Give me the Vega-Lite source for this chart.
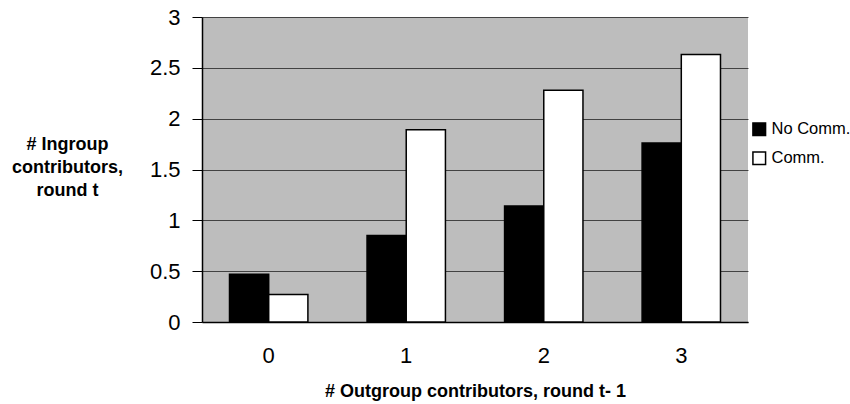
{
  "$schema": "https://vega.github.io/schema/vega-lite/v6.json",
  "autosize": "none",
  "padding": {"left": 202, "top": 17, "right": 102, "bottom": 82},
  "width": 546,
  "height": 305,
  "background": "white",
  "config": {
    "font": "Liberation Sans",
    "view": {"fill": "#bdbdbd", "stroke": null}
  },
  "data": {
    "values": [
      {"outgroup": "0", "cond": "No Comm.", "value": 0.47},
      {"outgroup": "0", "cond": "Comm.", "value": 0.27},
      {"outgroup": "1", "cond": "No Comm.", "value": 0.85},
      {"outgroup": "1", "cond": "Comm.", "value": 1.89},
      {"outgroup": "2", "cond": "No Comm.", "value": 1.14},
      {"outgroup": "2", "cond": "Comm.", "value": 2.28},
      {"outgroup": "3", "cond": "No Comm.", "value": 1.76},
      {"outgroup": "3", "cond": "Comm.", "value": 2.63}
    ]
  },
  "mark": {"type": "bar", "stroke": "black", "strokeWidth": 1.5},
  "encoding": {
    "x": {
      "field": "outgroup",
      "type": "nominal",
      "scale": {"paddingInner": 0.43, "paddingOuter": 0.2},
      "axis": {
        "labelAngle": 0,
        "labelFontSize": 22,
        "labelColor": "black",
        "labelPadding": 23,
        "ticks": false,
        "domainColor": "black",
        "domainWidth": 1.5,
        "title": "# Outgroup contributors, round t- 1",
        "titleFontSize": 18,
        "titleFontWeight": "bold",
        "titleColor": "black",
        "titleBaseline": "top",
        "titleY": 60
      }
    },
    "xOffset": {"field": "cond", "type": "nominal", "sort": ["No Comm.", "Comm."], "scale": {"paddingInner": 0}},
    "y": {
      "field": "value",
      "type": "quantitative",
      "scale": {"domain": [0, 3], "nice": false},
      "axis": {
        "values": [0, 0.5, 1, 1.5, 2, 2.5, 3],
        "format": "~g",
        "labelFontSize": 22,
        "labelColor": "black",
        "labelPadding": 12,
        "tickSize": 10,
        "tickColor": "black",
        "domainColor": "black",
        "domainWidth": 1.5,
        "grid": true,
        "gridColor": "#222222",
        "gridWidth": 0.8,
        "title": ["# Ingroup", "contributors,", "round t"],
        "titleAngle": 0,
        "titleFontSize": 18,
        "titleFontWeight": "bold",
        "titleColor": "black",
        "titleAlign": "center",
        "titleBaseline": "top",
        "titleX": -135,
        "titleY": 118,
        "titleLineHeight": 23
      }
    },
    "fill": {
      "field": "cond",
      "type": "nominal",
      "sort": ["No Comm.", "Comm."],
      "scale": {"domain": ["No Comm.", "Comm."], "range": ["black", "white"]},
      "legend": {
        "title": null,
        "orient": "none",
        "legendX": 549,
        "legendY": 104,
        "symbolType": "square",
        "symbolSize": 160,
        "symbolStrokeColor": "black",
        "symbolStrokeWidth": 1.5,
        "labelFontSize": 16.5,
        "labelColor": "black",
        "labelOffset": 4,
        "rowPadding": 9
      }
    }
  }
}
